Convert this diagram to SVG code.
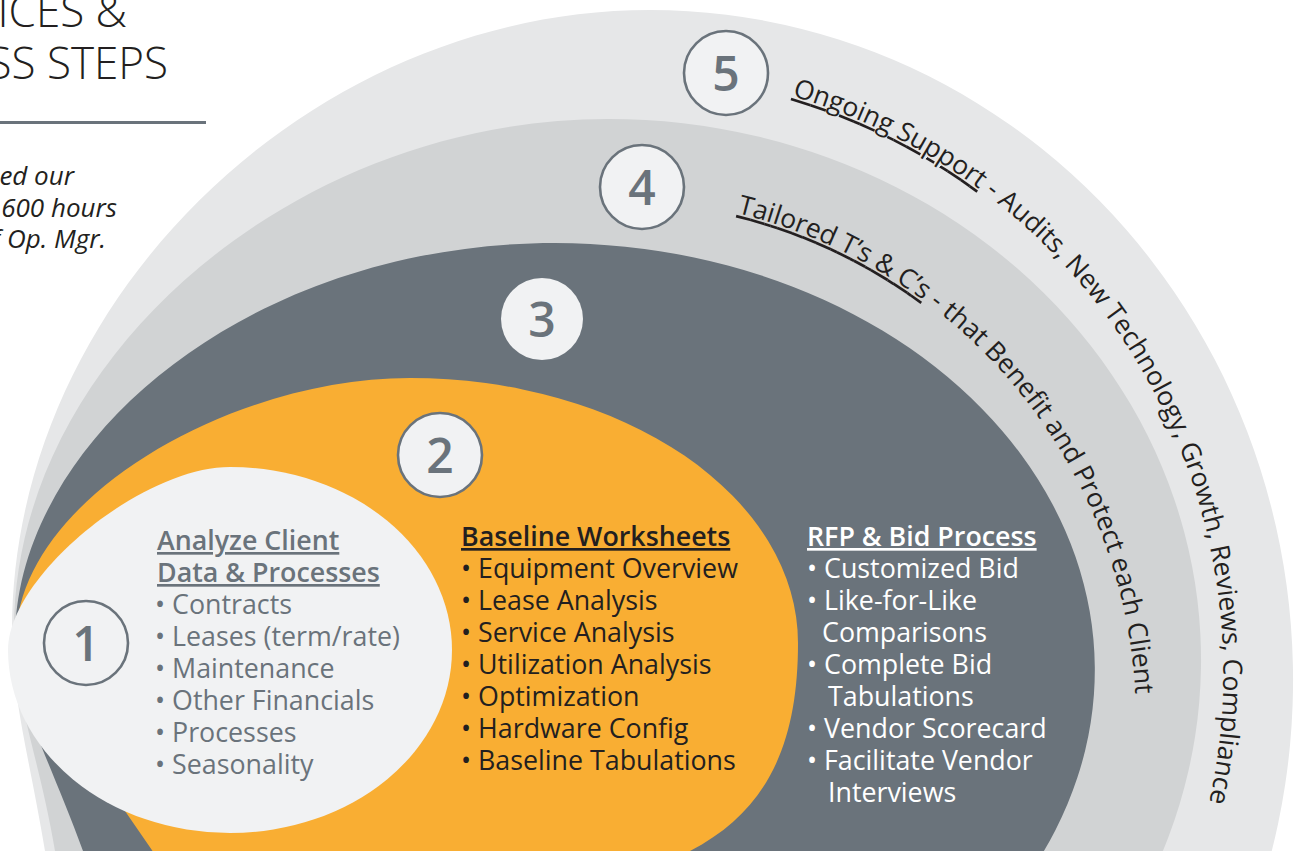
<svg xmlns="http://www.w3.org/2000/svg" width="1298" height="851" viewBox="0 0 1298 851">
<defs>
<style>
text{font-family:"Open Sans","Noto Sans","Liberation Sans",sans-serif;}
.body{font-size:26.8px;}
.hd{font-weight:600;text-decoration:underline;}
.num{font-size:48px;font-weight:600;fill:#6a737b;text-anchor:middle;}
.badge{fill:#f1f2f3;stroke:#6a737b;stroke-width:2.6;}
.arc4{font-size:26.6px;fill:#231f20;}
.arc5{font-size:26.4px;fill:#231f20;}
.ul{text-decoration:underline;}
.ital{font-size:26px;font-style:italic;fill:#231f20;text-anchor:end;}
.title{font-size:44px;font-weight:300;fill:#231f20;text-anchor:end;}
</style>
<path id="p5" d="M 792,96 A 601 601 0 0 1 1142.5,973.5"/>
<path id="p4" d="M 737,213 A 524 524 0 0 1 1065.8,984"/>
</defs>
<rect width="1298" height="851" fill="#ffffff"/>

<g id="header">
<text class="title" x="127" y="27">ICES &amp;</text>
<text class="title" x="168" y="79">SS STEPS</text>
<line x1="0" y1="122.5" x2="206" y2="122.5" stroke="#6a737b" stroke-width="3"/>
<text class="ital" x="74" y="185">ed our</text>
<text class="ital" x="117" y="217">600 hours</text>
<text class="ital" x="106" y="248">f Op. Mgr.</text>
</g>

<g id="step5">
<path fill="#e6e7e8" d="M 52,900 L 45,851 C 30,760 12,700 12,630 C 12,300 310,10 650,10 A 643 670 0 0 1 1257.4,900 Z"/>
</g>
<g id="step4">
<path fill="#d1d3d4" d="M 65,900 L 55,851 C 40,760 14,700 14,630 C 14,359 293,119 608,119 A 593 541 0 0 1 1139.5,900 Z"/>
</g>
<g id="step3">
<path fill="#6a737b" d="M 94,880 L 83,851 C 50,760 15,700 15,640 C 15,440 250,243 555,243 A 540 427 0 0 1 1025,880 Z"/>
</g>
<g id="step2">
<path fill="#f9ae33" d="M 176,885 L 125,811 L 30,690 L 16,640 C 16,500 230,378 410,378 A 388 265 0 0 1 798,643 C 798,740 770,810 690,851 L 624,885 Z"/>
</g>
<g id="step1">
<path fill="#f1f2f3" d="M 8,650 C 8,576.8 141.2,467 230,467 A 222 183 0 0 1 452,650 A 222 183 0 0 1 230,833 A 222 183 0 0 1 8,650 Z"/>
</g>

<g id="label5">
<circle class="badge" cx="726" cy="73" r="42"/>
<text class="num" x="726" y="91">5</text>
<text class="arc5"><textPath href="#p5"><tspan class="ul">Ongoing Support</tspan> - Audits, New Technology, Growth, Reviews, Compliance</textPath></text>
</g>
<g id="label4">
<circle class="badge" cx="642" cy="187" r="42"/>
<text class="num" x="642" y="205">4</text>
<text class="arc4"><textPath href="#p4"><tspan class="ul">Tailored T’s &amp; C’s</tspan> - that Benefit and Protect each Client</textPath></text>
</g>
<g id="label3">
<circle cx="542" cy="319" r="41" fill="#f1f2f3"/>
<text class="num" x="542" y="337">3</text>
<text class="body" fill="#ffffff">
<tspan class="hd" x="807" y="546">RFP &amp; Bid Process</tspan>
<tspan x="807" y="578">• Customized Bid</tspan>
<tspan x="807" y="610">• Like-for-Like</tspan>
<tspan x="822" y="642">Comparisons</tspan>
<tspan x="807" y="674">• Complete Bid</tspan>
<tspan x="828" y="706">Tabulations</tspan>
<tspan x="807" y="738">• Vendor Scorecard</tspan>
<tspan x="807" y="770">• Facilitate Vendor</tspan>
<tspan x="828" y="802">Interviews</tspan>
</text>
</g>
<g id="label2">
<circle class="badge" cx="440" cy="455" r="42"/>
<text class="num" x="440" y="473">2</text>
<text class="body" fill="#231f20">
<tspan class="hd" x="461" y="546">Baseline Worksheets</tspan>
<tspan x="461" y="578">• Equipment Overview</tspan>
<tspan x="461" y="610">• Lease Analysis</tspan>
<tspan x="461" y="642">• Service Analysis</tspan>
<tspan x="461" y="674">• Utilization Analysis</tspan>
<tspan x="461" y="706">• Optimization</tspan>
<tspan x="461" y="738">• Hardware Config</tspan>
<tspan x="461" y="770">• Baseline Tabulations</tspan>
</text>
</g>
<g id="label1">
<circle class="badge" cx="86" cy="643" r="42"/>
<text class="num" x="86" y="661">1</text>
<text class="body" fill="#6a737b">
<tspan class="hd" x="157" y="550">Analyze Client</tspan>
<tspan class="hd" x="157" y="582">Data &amp; Processes</tspan>
<tspan x="155" y="614">• Contracts</tspan>
<tspan x="155" y="646">• Leases (term/rate)</tspan>
<tspan x="155" y="678">• Maintenance</tspan>
<tspan x="155" y="710">• Other Financials</tspan>
<tspan x="155" y="742">• Processes</tspan>
<tspan x="155" y="774">• Seasonality</tspan>
</text>
</g>
<g id="connectors"/>
</svg>
